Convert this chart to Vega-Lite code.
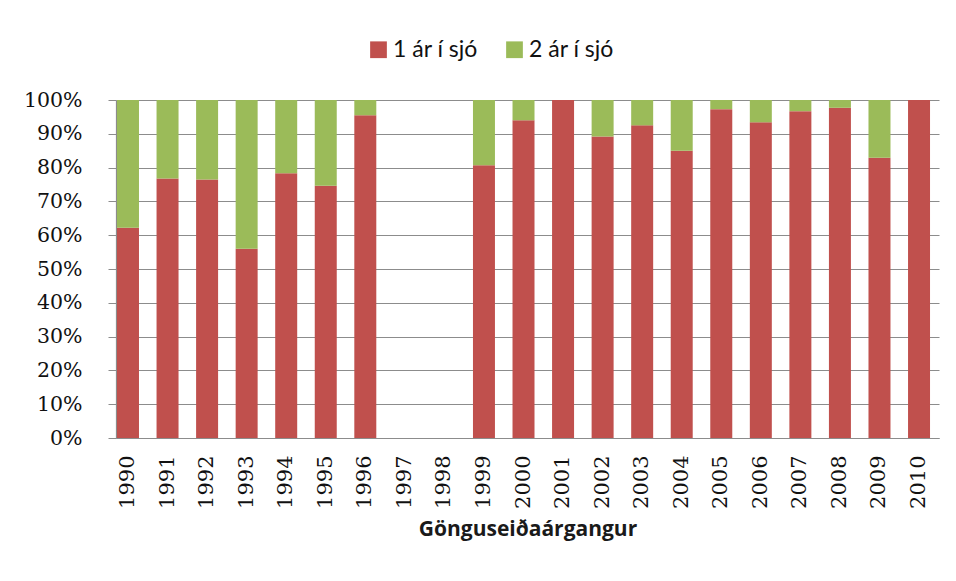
{
  "$schema": "https://vega.github.io/schema/vega-lite/v6.json",
  "width": 823,
  "height": 338,
  "autosize": "none",
  "padding": {"left": 116, "top": 100, "right": 17, "bottom": 143},
  "background": "white",
  "data": {"values": [
    {"year": "1990", "group": "1 ár í sjó", "pct": 62.2}, {"year": "1990", "group": "2 ár í sjó", "pct": 37.8},
    {"year": "1991", "group": "1 ár í sjó", "pct": 76.8}, {"year": "1991", "group": "2 ár í sjó", "pct": 23.2},
    {"year": "1992", "group": "1 ár í sjó", "pct": 76.5}, {"year": "1992", "group": "2 ár í sjó", "pct": 23.5},
    {"year": "1993", "group": "1 ár í sjó", "pct": 56.0}, {"year": "1993", "group": "2 ár í sjó", "pct": 44.0},
    {"year": "1994", "group": "1 ár í sjó", "pct": 78.3}, {"year": "1994", "group": "2 ár í sjó", "pct": 21.7},
    {"year": "1995", "group": "1 ár í sjó", "pct": 74.6}, {"year": "1995", "group": "2 ár í sjó", "pct": 25.4},
    {"year": "1996", "group": "1 ár í sjó", "pct": 95.5}, {"year": "1996", "group": "2 ár í sjó", "pct": 4.5},
    {"year": "1999", "group": "1 ár í sjó", "pct": 80.7}, {"year": "1999", "group": "2 ár í sjó", "pct": 19.3},
    {"year": "2000", "group": "1 ár í sjó", "pct": 94.0}, {"year": "2000", "group": "2 ár í sjó", "pct": 6.0},
    {"year": "2001", "group": "1 ár í sjó", "pct": 100.0}, {"year": "2001", "group": "2 ár í sjó", "pct": 0.0},
    {"year": "2002", "group": "1 ár í sjó", "pct": 89.2}, {"year": "2002", "group": "2 ár í sjó", "pct": 10.8},
    {"year": "2003", "group": "1 ár í sjó", "pct": 92.5}, {"year": "2003", "group": "2 ár í sjó", "pct": 7.5},
    {"year": "2004", "group": "1 ár í sjó", "pct": 85.0}, {"year": "2004", "group": "2 ár í sjó", "pct": 15.0},
    {"year": "2005", "group": "1 ár í sjó", "pct": 97.3}, {"year": "2005", "group": "2 ár í sjó", "pct": 2.7},
    {"year": "2006", "group": "1 ár í sjó", "pct": 93.4}, {"year": "2006", "group": "2 ár í sjó", "pct": 6.6},
    {"year": "2007", "group": "1 ár í sjó", "pct": 96.7}, {"year": "2007", "group": "2 ár í sjó", "pct": 3.3},
    {"year": "2008", "group": "1 ár í sjó", "pct": 97.7}, {"year": "2008", "group": "2 ár í sjó", "pct": 2.3},
    {"year": "2009", "group": "1 ár í sjó", "pct": 82.9}, {"year": "2009", "group": "2 ár í sjó", "pct": 17.1},
    {"year": "2010", "group": "1 ár í sjó", "pct": 100.0}, {"year": "2010", "group": "2 ár í sjó", "pct": 0.0}
  ]},
  "mark": {"type": "bar"},
  "encoding": {
    "x": {
      "field": "year", "type": "nominal",
      "scale": {"domain": ["1990","1991","1992","1993","1994","1995","1996","1997","1998","1999","2000","2001","2002","2003","2004","2005","2006","2007","2008","2009","2010"], "paddingInner": 0.444, "paddingOuter": 0.126, "align": 0.1},
      "axis": {
        "title": "Gönguseiðaárgangur",
        "titleFont": "Open Sans", "titleFontSize": 21, "titleFontWeight": "bold", "titleColor": "#1a1a1a", "titlePadding": 10,
        "labelAngle": -90, "labelFont": "DejaVu Serif", "labelFontSize": 21, "labelColor": "#111111", "labelPadding": 17,
        "ticks": false, "domainColor": "#8c8c8c", "domainWidth": 1.2, "grid": false
      }
    },
    "y": {
      "field": "pct", "type": "quantitative", "stack": "zero",
      "scale": {"domain": [0, 100], "nice": false},
      "axis": {
        "title": null, "values": [0,10,20,30,40,50,60,70,80,90,100],
        "labelExpr": "datum.value + '%'",
        "labelFont": "DejaVu Serif", "labelFontSize": 20.5, "labelColor": "#111111", "labelPadding": 26,
        "tickSize": 8, "tickColor": "#8c8c8c", "domainColor": "#8c8c8c", "domainWidth": 1.2,
        "grid": true, "gridColor": "#8c8c8c", "gridWidth": 1.2
      }
    },
    "order": {"field": "group", "sort": "ascending"},
    "color": {
      "field": "group", "type": "nominal",
      "scale": {"domain": ["1 ár í sjó", "2 ár í sjó"], "range": ["#C0504D", "#9BBB59"]},
      "legend": {
        "title": null, "orient": "none", "legendX": 251, "legendY": -62, "direction": "horizontal",
        "symbolType": "square", "symbolSize": 280, "symbolStrokeWidth": 0, "symbolOffset": 0,
        "labelFont": "Lato", "labelFontSize": 23, "labelColor": "#111111", "labelOffset": 3, "columnPadding": 25
      }
    }
  },
  "config": {"view": {"stroke": null}}
}
